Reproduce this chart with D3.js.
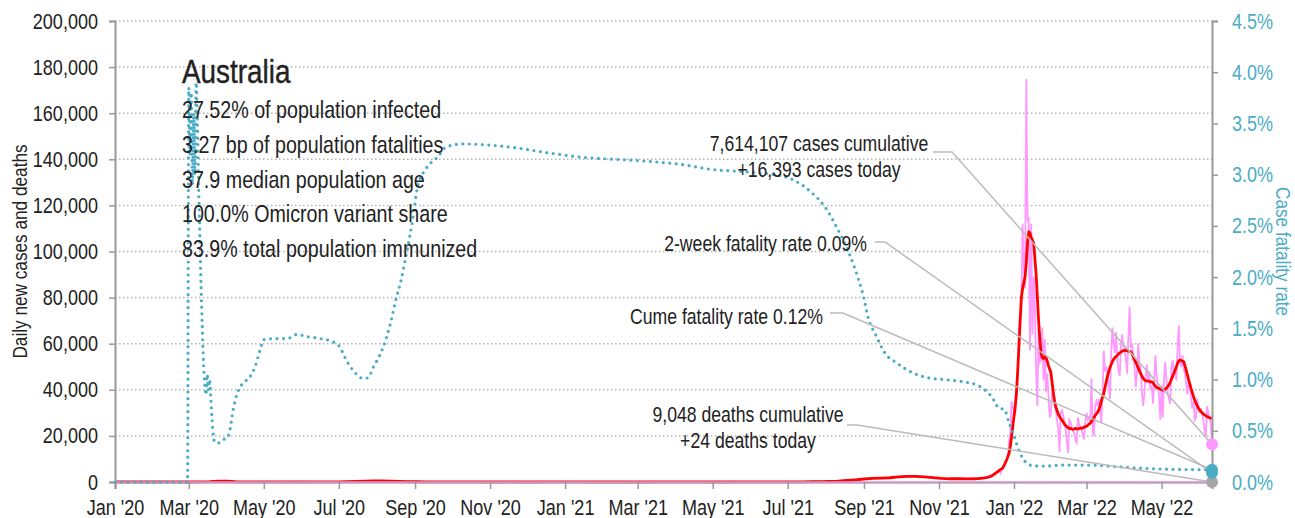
<!DOCTYPE html>
<html>
<head>
<meta charset="utf-8">
<script src="https://cdn.jsdelivr.net/npm/d3@7"></script>
<style>
body { margin: 0; background: #fff; }
svg text { font-family: 'Liberation Sans Narrow', 'Liberation Sans', Arial, sans-serif; fill: #222; }
</style>
</head>
<body>
<svg width="1295" height="518"></svg>
<script>
// weekly values (7-day avg of new cases) from 1 Jan 2020, one per week
var weeklyStart = "2020-01-01";
var weeklyCases = [0, 0, 0, 1, 1, 1, 1, 0, 2, 8, 30, 150, 380, 330, 110, 35, 15, 15, 16, 14,
  10, 12, 10, 12, 20, 45, 85, 150, 260, 380, 480, 450, 370, 260, 150, 110, 65, 35, 20, 15,
  15, 14, 12, 10, 10, 10, 12, 10, 10, 10, 18, 25, 25, 20, 12, 8, 6, 5, 7, 6,
  6, 8, 10, 12, 14, 12, 12, 14, 12, 10, 10, 10, 12, 15, 14, 12, 14, 25, 35, 45,
  80, 140, 190, 270, 370, 650, 950, 1300, 1600, 1700, 1850, 2200, 2400, 2400, 2200, 1900, 1600, 1400, 1400, 1350];

// daily values from 1 Dec 2021
var dailyStart = "2021-12-01";
var dailyCases = [
  // Dec 2021
  1300, 1400, 1500, 1650, 1450, 1400, 1700, 1700, 1800, 2000, 2150, 2300, 2100, 2600, 3200, 3500,
  3900, 4300, 4500, 4900, 3800, 5600, 6200, 7400, 8000, 9500, 11000, 18000, 21000, 35000, 32000,
  // Jan 2022
  32000, 29000, 37000, 47000, 64000, 72000, 78000, 112000, 93000, 84000, 174800, 113000, 115000, 57000, 112000, 64000,
  89000, 75000, 48000, 33000, 67000, 52000, 53000, 67000, 44000, 62000, 39000, 47000, 38000, 28000, 30000,
  // Feb 2022
  38000, 41000, 35000, 31000, 27000, 22600, 13000, 30000, 31000, 29000, 26000, 23000, 17000, 12600,
  27000, 26000, 24000, 22000, 21000, 18000, 17000, 28000, 25000, 24000, 23000, 20000, 18500, 26000,
  // Mar 2022
  30000, 27000, 28000, 26000, 45000, 22000, 20000, 33000, 35000, 33000, 36000, 30000, 26000, 38000, 57000, 48000,
  50000, 47000, 43000, 36000, 55000, 67000, 60000, 56000, 65000, 54000, 48000, 46000, 60000, 64000, 59000,
  // Apr 2022
  57000, 53000, 47000, 63000, 76000, 58000, 60000, 55000, 50000, 41000, 47000, 60000, 52000, 49000, 39000,
  33000, 38000, 46000, 51000, 44000, 48000, 40000, 42000, 34000, 44000, 55000, 46000, 42000, 37000, 27000,
  // May 2022
  42000, 28000, 45000, 52000, 44000, 39000, 36000, 34000, 50000, 53000, 47000, 49000, 44000, 58000, 68000, 52000,
  50000, 55000, 49000, 47000, 42000, 38000, 44000, 42000, 36000, 32000, 35000, 27000, 28000, 36000, 33000,
  // Jun 2022
  30000, 32000, 29000, 27000, 22000, 20000, 33000, 30000, 28000, 25000, 16393];

var dailyAvg = [
  // Dec 2021
  1400, 1450, 1500, 1550, 1600, 1650, 1700, 1750, 1850, 1950, 2100, 2300, 2500, 2750, 3000, 3400,
  3800, 4200, 4600, 5000, 5400, 5700, 6200, 7200, 8500, 9500, 11000, 12500, 15500, 19500, 24000,
  // Jan 2022
  28500, 33000, 38600, 48000, 58700, 70000, 80000, 84000, 86500, 89000, 95000, 104000, 108600, 108000, 106000, 105000,
  103500, 97000, 90000, 80000, 70000, 62000, 56000, 54000, 53500, 54500, 54000, 52500, 50500, 49000, 47500,
  // Feb 2022
  43000, 38500, 35000, 32500, 31000, 29500, 28500, 27500, 26900, 26000, 25200, 24500, 24000, 23500,
  23200, 23300, 23000, 22800, 23000, 23300, 23100, 23000, 23200, 23400, 23300, 23500, 23800, 24000,
  // Mar 2022
  24200, 24600, 25200, 25500, 26200, 26900, 27800, 29000, 29500, 30300, 31200, 33000, 35000, 36800, 38500, 41000,
  43500, 45800, 47900, 49500, 51000, 52200, 53200, 54000, 54400, 55000, 55600, 56000, 56400, 56800, 57000,
  // Apr 2022
  57000, 57200, 57000, 56800, 56700, 56500, 55500, 54200, 53000, 52000, 50800, 49500, 48200, 47000, 46000,
  45000, 44300, 44000, 43800, 43800, 43600, 43400, 43500, 43000, 42200, 41600, 41000, 40800, 40600, 40300,
  // May 2022
  40100, 39900, 39900, 40300, 40800, 41400, 42100, 43300, 44500, 45900, 47200, 48600, 50000, 51500, 52600, 52900,
  52700, 52500, 52200, 50500, 48500, 46500, 44300, 42500, 40500, 38800, 37000, 35500, 34200, 33000, 32000,
  // Jun 2022
  31200, 30600, 30000, 29500, 29100, 28700, 28400, 28100, 27900, 27700, 27600];

// cumulative case fatality rate (%)
var cfrDates = ["2020-01-01", "2020-02-29", "2020-03-01", "2020-03-02", "2020-03-03", "2020-03-04", "2020-03-05",
  "2020-03-06", "2020-03-07", "2020-03-08", "2020-03-09", "2020-03-10", "2020-03-11", "2020-03-12", "2020-03-13",
  "2020-03-14", "2020-03-15", "2020-03-16", "2020-03-17", "2020-03-18", "2020-03-19", "2020-03-20", "2020-03-21",
  "2020-03-22", "2020-03-25", "2020-03-28", "2020-04-01", "2020-04-03", "2020-04-06", "2020-04-09", "2020-04-13",
  "2020-04-20", "2020-04-24", "2020-04-28", "2020-05-01", "2020-05-10", "2020-05-20", "2020-05-28", "2020-06-05",
  "2020-06-16", "2020-06-26", "2020-07-01", "2020-07-08", "2020-07-14", "2020-07-21", "2020-07-25", "2020-07-29",
  "2020-08-03", "2020-08-09", "2020-08-12", "2020-08-16", "2020-08-21", "2020-08-25", "2020-08-30", "2020-09-03",
  "2020-09-10", "2020-09-20", "2020-09-26", "2020-10-10", "2020-10-30", "2020-11-23", "2020-12-20", "2021-01-15",
  "2021-02-10", "2021-03-10", "2021-04-05", "2021-05-01", "2021-05-25", "2021-06-20", "2021-07-01", "2021-07-10",
  "2021-07-20", "2021-07-31", "2021-08-11", "2021-08-20", "2021-08-25", "2021-08-31", "2021-09-05", "2021-09-10",
  "2021-09-18", "2021-09-28", "2021-10-10", "2021-10-22", "2021-11-05", "2021-11-20", "2021-12-03", "2021-12-14",
  "2021-12-20", "2021-12-24", "2021-12-28", "2022-01-01", "2022-01-05", "2022-01-10", "2022-01-16", "2022-01-25",
  "2022-02-10", "2022-03-05", "2022-03-25", "2022-04-15", "2022-05-10", "2022-06-11"];
var cfrValues = [0, 0, 3.85, 3.2, 3.8, 2.9, 3.6,
  3.0, 3.9, 3.5, 2.9, 2.4, 1.9, 1.5, 1.15,
  0.95, 0.85, 1.05, 0.9, 1.0, 0.8, 0.6, 0.45,
  0.39, 0.38, 0.41, 0.43, 0.48, 0.70, 0.85, 0.95,
  1.03, 1.13, 1.29, 1.39, 1.40, 1.40, 1.44, 1.42,
  1.40, 1.37, 1.33, 1.17, 1.07, 1.01, 1.02, 1.12,
  1.23, 1.42, 1.55, 1.76, 1.99, 2.23, 2.56, 2.88,
  3.06, 3.18, 3.27, 3.30, 3.29, 3.26, 3.21, 3.17,
  3.15, 3.13, 3.10, 3.05, 3.03, 3.00, 2.97, 2.92,
  2.83, 2.69, 2.46, 2.23, 2.07, 1.84, 1.58, 1.45,
  1.26, 1.16, 1.07, 1.02, 1.00, 0.98, 0.94, 0.83,
  0.72, 0.71, 0.58, 0.45, 0.31, 0.20, 0.16, 0.155,
  0.165, 0.165, 0.15, 0.134, 0.124, 0.12];

var endDate = "2022-06-11";
var casesToday = 16393;
var deathsToday = 24;
var cumeFatality = 0.12;
var twoWeekFatality = 0.09;

var leftTicks = [0, 20000, 40000, 60000, 80000, 100000, 120000, 140000, 160000, 180000, 200000];
var rightTicks = [0, 0.005, 0.01, 0.015, 0.02, 0.025, 0.03, 0.035, 0.04, 0.045];

var title = "Australia";
var stats = ["27.52% of population infected", "3.27 bp of population fatalities", "37.9 median population age",
  "100.0% Omicron variant share", "83.9% total population immunized"];

var parse = d3.timeParse("%Y-%m-%d");
var svg = d3.select("svg");
var plotL = 115, plotR = 1212, plotT = 21, plotB = 482;
// no narrow font installed, so squeeze a normal one horizontally
var squeeze = 0.82;
function narrow(sel) {
  sel.each(function () {
    var t = d3.select(this);
    var x0 = +t.attr("x") || 0;
    t.attr("x", x0 / squeeze)
      .attr("transform", (t.attr("transform") || "") + " scale(" + squeeze + ",1)");
  });
}

var x = d3.scaleTime().domain([parse("2020-01-01"), parse(endDate)]).range([plotL, plotR]);
var yLeft = d3.scaleLinear().domain([0, 200000]).range([plotB, plotT]);
var yRight = d3.scaleLinear().domain([0, 0.045]).range([plotB, plotT]);

// build the case series: weekly early part then daily
var pinkData = [], redData = [];
weeklyCases.forEach(function (v, i) {
  var d = d3.timeDay.offset(parse(weeklyStart), i * 7);
  pinkData.push({ date: d, value: v });
  redData.push({ date: d, value: v });
});
dailyCases.forEach(function (v, i) {
  pinkData.push({ date: d3.timeDay.offset(parse(dailyStart), i), value: v });
});
dailyAvg.forEach(function (v, i) {
  redData.push({ date: d3.timeDay.offset(parse(dailyStart), i), value: v });
});
var cfrData = cfrDates.map(function (d, i) { return { date: parse(d), value: cfrValues[i] / 100 }; });

// gridlines
svg.append("g").selectAll("line")
  .data(leftTicks.filter(function (t) { return t > 0; }))
  .enter().append("line")
  .attr("x1", plotL).attr("x2", plotR)
  .attr("y1", function (d) { return yLeft(d); })
  .attr("y2", function (d) { return yLeft(d); })
  .attr("stroke", "#b4b4b4").attr("stroke-width", 1.5)
  .attr("stroke-dasharray", "1.5,2.5");

// daily cases (pink) and 7-day avg (red)
var caseLine = d3.line().x(function (d) { return x(d.date); }).y(function (d) { return yLeft(d.value); });
svg.append("path").datum(pinkData)
  .attr("fill", "none").attr("stroke", "#ff99ff").attr("stroke-width", 1.8)
  .attr("d", caseLine);
svg.append("path").datum(redData)
  .attr("fill", "none").attr("stroke", "#ff0000").attr("stroke-width", 2.8)
  .attr("stroke-linejoin", "round")
  .attr("d", caseLine);

// axes
function styleAxis(g, color) {
  g.select(".domain").attr("stroke", "#999").attr("stroke-width", 2);
  g.selectAll(".tick line").attr("stroke", "#999").attr("stroke-width", 1.5);
  g.selectAll(".tick text").attr("font-size", 22).style("fill", color)
    .attr("font-family", null).call(narrow);
}
svg.append("g").attr("transform", "translate(" + plotL + ",0)")
  .call(d3.axisLeft(yLeft).tickValues(leftTicks).tickFormat(d3.format(",")).tickSize(6).tickPadding(11))
  .call(function (g) { styleAxis(g, "#222"); });
svg.append("g").attr("transform", "translate(" + plotR + ",0)")
  .call(d3.axisRight(yRight).tickValues(rightTicks).tickFormat(d3.format(".1%")).tickSize(6).tickPadding(14))
  .call(function (g) { styleAxis(g, "#4bacc6"); });
svg.append("g").attr("transform", "translate(0," + plotB + ")")
  .call(d3.axisBottom(x).ticks(d3.timeMonth.every(2)).tickFormat(d3.timeFormat("%b '%y")).tickSize(7).tickPadding(10))
  .call(function (g) {
    styleAxis(g, "#222");
    // pink daily line lies along the baseline, giving it a mauve tint
    g.select(".domain").attr("stroke", "#c99ac6").attr("stroke-width", 2.6);
  });

// axis titles
svg.append("text")
  .attr("transform", "translate(27," + (plotT + plotB) / 2 + ") rotate(-90)")
  .attr("text-anchor", "middle").attr("font-size", 21)
  .text("Daily new cases and deaths").call(narrow);
svg.append("text")
  .attr("transform", "translate(1276," + (plotT + plotB) / 2 + ") rotate(90)")
  .attr("text-anchor", "middle").attr("font-size", 21)
  .style("fill", "#4bacc6")
  .text("Case fatality rate").call(narrow);

// case fatality rate (teal dots)
svg.append("path").datum(cfrData)
  .attr("fill", "none").attr("stroke", "#4bacc6").attr("stroke-width", 3.2)
  .attr("stroke-linecap", "round").attr("stroke-dasharray", "0,6.5")
  .attr("d", d3.line().curve(d3.curveMonotoneX)
    .x(function (d) { return x(d.date); }).y(function (d) { return yRight(d.value); }));

// title and stats
svg.append("text").attr("x", 182).attr("y", 83).attr("font-size", 34)
  .attr("stroke", "#222").attr("stroke-width", 0.4).text(title).call(narrow);
svg.append("g").selectAll("text").data(stats).enter().append("text")
  .attr("x", 182).attr("y", function (d, i) { return 118 + i * 34.8; })
  .attr("font-size", 24).text(function (d) { return d; }).call(narrow);

// end markers
var xe = x(parse(endDate));
var markers = {
  deaths: [xe, yLeft(deathsToday)],
  cume: [xe, yRight(cumeFatality / 100)],
  twoWeek: [xe, yRight(twoWeekFatality / 100)],
  cases: [xe, yLeft(casesToday)]
};

// annotations with leader lines
var notes = [
  { lines: ["7,614,107 cases cumulative", "+16,393 cases today"], x: 819, y: 151, anchor: "middle", from: [933, 152], bend: [952, 152], to: markers.cases },
  { lines: ["2-week fatality rate 0.09%"], x: 867, y: 251, anchor: "end", from: [875, 242], bend: [885, 242], to: markers.twoWeek },
  { lines: ["Cume fatality rate 0.12%"], x: 823, y: 324, anchor: "end", from: [830, 313], bend: [843, 313], to: markers.cume },
  { lines: ["9,048 deaths cumulative", "+24 deaths today"], x: 748, y: 422, anchor: "middle", from: [847, 425], bend: [857, 425], to: markers.deaths }
];
notes.forEach(function (n) {
  svg.append("polyline")
    .attr("points", [n.from, n.bend, n.to].map(function (p) { return p.join(","); }).join(" "))
    .attr("fill", "none").attr("stroke", "#bbb").attr("stroke-width", 1.5);
  n.lines.forEach(function (t, i) {
    svg.append("text").attr("x", n.x).attr("y", n.y + i * 26)
      .attr("text-anchor", n.anchor).attr("font-size", 21.5).text(t).call(narrow);
  });
});

svg.append("circle").attr("cx", markers.deaths[0]).attr("cy", markers.deaths[1]).attr("r", 6).attr("fill", "#a6a6a6");
svg.append("circle").attr("cx", markers.twoWeek[0]).attr("cy", markers.twoWeek[1]).attr("r", 6).attr("fill", "#4bacc6");
svg.append("circle").attr("cx", markers.cume[0]).attr("cy", markers.cume[1]).attr("r", 6).attr("fill", "#4bacc6");
svg.append("circle").attr("cx", markers.cases[0]).attr("cy", markers.cases[1]).attr("r", 6).attr("fill", "#ff99ff");
</script>
</body>
</html>
